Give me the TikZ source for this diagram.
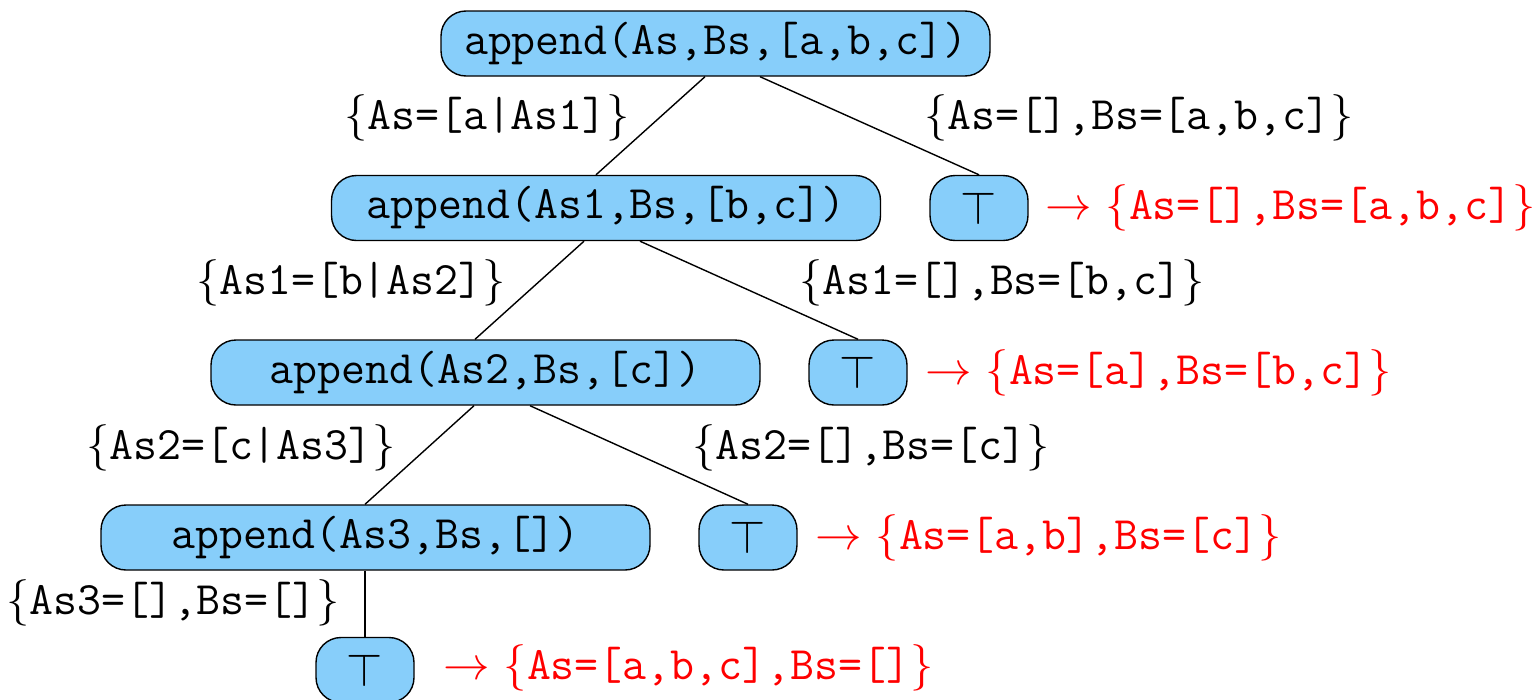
\documentclass[tikz,border=0pt]{standalone}
\usepackage{fix-cm}
\usepackage{fontspec}
\usetikzlibrary{calc}
\definecolor{boxblue}{RGB}{135,206,250}
\tikzset{
  goal/.style={draw=black, fill=boxblue, line width=1.4pt, rounded corners=25pt,
    minimum width=549pt, minimum height=65pt, inner sep=0pt},
  topbox/.style={goal, minimum width=98pt},
  subst/.style={inner sep=0pt, anchor=center},
  result/.style={inner sep=0pt, anchor=west, text=red},
  edge/.style={line width=1.4pt}
}
\newcommand{\gl}[1]{\texttt{#1}}
\newcommand{\sbs}[1]{$\{$\texttt{#1}$\}$}
\begin{document}
\begin{tikzpicture}[x=1pt,y=-1pt,font=\fontsize{46.5}{56}\selectfont]
\useasboundingbox (0,0) rectangle (1538,699);
% goals
\node[goal] (n0) at (715.5,43.5) {\gl{append(As,Bs,[a,b,c])}};
\node[goal] (n1) at (606,208) {\gl{append(As1,Bs,[b,c])}};
\node[goal] (n2) at (485.5,372.5) {\gl{append(As2,Bs,[c])}};
\node[goal] (n3) at (375.5,537.5) {\gl{append(As3,Bs,[])}};
% successes
\node[topbox] (t1) at (979,208) {$\top$};
\node[topbox] (t2) at (858,372.5) {$\top$};
\node[topbox] (t3) at (748,537.5) {$\top$};
\node[topbox] (t4) at (365,670) {$\top$};
% edges
\draw[edge] ($(n0.south)+(-10.5,0)$) -- ($(n1.north)+(-10,0)$);
\draw[edge] ($(n0.south)+(44.5,0)$) -- (t1.north);
\draw[edge] ($(n1.south)+(-22,0)$) -- ($(n2.north)+(-10.5,0)$);
\draw[edge] ($(n1.south)+(34,0)$) -- (t2.north);
\draw[edge] ($(n2.south)+(-11.5,0)$) -- ($(n3.north)+(-10.5,0)$);
\draw[edge] ($(n2.south)+(44.5,0)$) -- (t3.north);
\draw[edge] ($(n3.south)+(-10.5,0)$) -- (t4.north);
% substitution labels
\node[subst] (s1) at (487,118) {\sbs{As=[a|As1]}};
\node[subst] (s2) at (1139,118) {\sbs{As=[],Bs=[a,b,c]}};
\node[subst] (s3) at (351,283) {\sbs{As1=[b|As2]}};
\node[subst] (s4) at (1002,283) {\sbs{As1=[],Bs=[b,c]}};
\node[subst] (s5) at (241,448) {\sbs{As2=[c|As3]}};
\node[subst] (s6) at (871,448) {\sbs{As2=[],Bs=[c]}};
\node[subst] (s7) at (173,603) {\sbs{As3=[],Bs=[]}};
% results
\node[result] (r1) at (1045,208) {$\rightarrow$ \sbs{As=[],Bs=[a,b,c]}};
\node[result] (r2) at (925,372.5) {$\rightarrow$ \sbs{As=[a],Bs=[b,c]}};
\node[result] (r3) at (815,537.5) {$\rightarrow$ \sbs{As=[a,b],Bs=[c]}};
\node[result] (r4) at (443,668) {$\rightarrow$ \sbs{As=[a,b,c],Bs=[]}};
\end{tikzpicture}
\end{document}
